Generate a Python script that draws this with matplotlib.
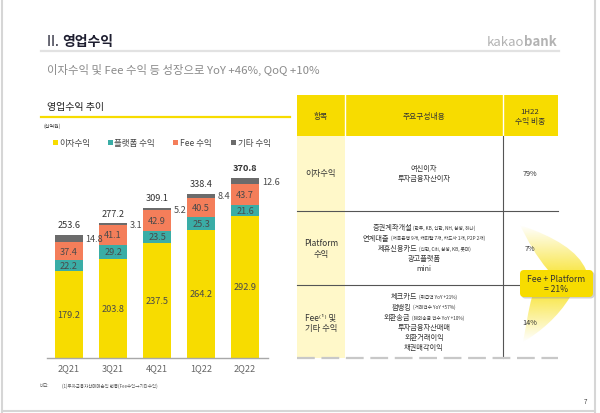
import matplotlib
matplotlib.use('Agg')
import matplotlib.pyplot as plt
from matplotlib.patches import Rectangle, FancyBboxPatch, PathPatch
from matplotlib.path import Path
import numpy as np

plt.rcParams['font.family'] = ['Noto Sans CJK KR', 'DejaVu Sans']

# ---------------- data ----------------
quarters = ['2Q21', '3Q21', '4Q21', '1Q22', '2Q22']
interest = [179.2, 203.8, 237.5, 264.2, 292.9]
platform = [22.2, 29.2, 23.5, 25.3, 21.6]
fee = [37.4, 41.1, 42.9, 40.5, 43.7]
other = [14.8, 3.1, 5.2, 8.4, 12.6]
totals = [253.6, 277.2, 309.1, 338.4, 370.8]
series_names = ['이자수익', '플랫폼 수익', 'Fee 수익', '기타 수익']
colors = ['#F7DC00', '#3AADA6', '#F47E5A', '#6B6B6B']

table_header = ['항목', '주요구성내용', '1H22\n수익 비중']
row_labels = ['이자수익', 'Platform\n수익', 'Fee⁽¹⁾ 및\n기타 수익']
row_shares = ['79%', '7%', '14%']
row1_items = [('여신이자', ''), ('투자금융자산이자', '')]
row2_items = [('증권계좌개설', '(한투, KB, 신한, NH, 삼성, 하나)'),
              ('연계대출', '(저축은행 9개, 캐피탈 7개, 카드사 1개, P2P 2개)'),
              ('제휴신용카드', '(신한, Citi, 삼성, KB, 롯데)'),
              ('광고플랫폼', ''),
              ('mini', '')]
row3_items = [('체크카드', '(취급액 YoY +21%)'),
              ('펌뱅킹', '(거래건수 YoY +57%)'),
              ('외환송금', '(해외송금 건수 YoY +10%)'),
              ('투자금융자산매매', ''),
              ('외환거래이익', ''),
              ('채권매각이익', '')]

fig = plt.figure(figsize=(6, 4.14), dpi=100)
bg = fig.add_axes([0, 0, 1, 1])
bg.set_xlim(0, 600)
bg.set_ylim(414, 0)
bg.axis('off')
renderer = fig.canvas.get_renderer()

def width_px(t):
    return t.get_window_extent(renderer=renderer).width

# page border
for xs, ys in [([2, 2], [0, 413]), ([595, 595], [0, 413]), ([2, 595], [412.5, 412.5])]:
    bg.plot(xs, ys, color='#d6d6d6', lw=1.5)

# title
t_ii = bg.text(47, 42, 'II. ', fontsize=10, va='center', color='#1e1e30')
bg.text(47 + width_px(t_ii), 42, '영업수익', fontsize=10, va='center', color='#1e1e30', fontweight='bold')
bg.plot([41, 559], [52, 52], color='#e2e2e2', lw=1.6)
tb = bg.text(557, 42, 'bank', fontsize=9.5, va='center', ha='right', color='#b3b3b3', fontweight='bold')
bg.text(557 - width_px(tb), 42, 'kakao', fontsize=9.5, va='center', ha='right', color='#b3b3b3')

bg.text(47, 70, '이자수익 및 Fee 수익 등 성장으로 YoY +46%, QoQ +10%', fontsize=8.2,
        va='center', color='#8a8a8a')

bg.text(47, 107, '영업수익 추이', fontsize=7.2, va='center', color='#222222')
bg.plot([41, 290], [118, 118], color='#F7DC00', lw=1.6)
bg.text(43, 126, '(십억원)', fontsize=3.6, va='center', color='#444444')

# legend
leg_x = [53, 108, 173, 231]
for lx, name, c in zip(leg_x, series_names, colors):
    bg.add_patch(Rectangle((lx, 141), 4.5, 4.5, color=c, lw=0))
    bg.text(lx + 6.5, 143.3, name, fontsize=6.1, va='center', color='#444444')

# footnote
bg.text(40, 386, '비고:', fontsize=3.2, va='center', color='#555555')
bg.text(62, 386, '(1)투자금융자산매매손익 변동(Fee수익→기타수익)', fontsize=3.2, va='center', color='#555555')
bg.text(584, 402, '7', fontsize=4.5, va='center', color='#444444')

# ---------------- chart ----------------
ax = fig.add_axes([47 / 600, 55 / 414, 221 / 600, 209 / 414])
ax.patch.set_alpha(0)
x = np.arange(len(quarters))
bw = 0.64
stack = [interest, platform, fee, other]
bottom = np.zeros(len(quarters))
for k, (vals, c) in enumerate(zip(stack, colors)):
    vals = np.array(vals)
    ax.bar(x, vals, bw, bottom=bottom, color=c, lw=0)
    for i in range(len(quarters)):
        mid = bottom[i] + vals[i] / 2
        if k < 3:
            ax.text(x[i], mid, f'{vals[i]:.1f}', ha='center', va='center', fontsize=6.6, color='#4a4a4a')
        else:
            ax.text(x[i] + bw / 2 + 0.06, mid, f'{vals[i]:.1f}', ha='left', va='center', fontsize=6.6,
                    color='#4a4a4a')
    bottom = bottom + vals
for i, t in enumerate(totals):
    ax.annotate(f'{t:.1f}', (x[i], t), xytext=(0, 7.5), textcoords='offset points', ha='center',
                va='center', fontsize=6.6, color='#333333',
                fontweight='bold' if i == len(totals) - 1 else 'normal')
ax.set_xlim(-0.5, 4.52)
ax.set_ylim(0, 209 / 0.4855)
for s in ['top', 'right', 'left']:
    ax.spines[s].set_visible(False)
ax.spines['bottom'].set_color('#a8a8a8')
ax.spines['bottom'].set_linewidth(1)
ax.set_yticks([])
ax.set_xticks(x)
ax.set_xticklabels(quarters)
ax.tick_params(axis='x', length=0, pad=4, labelsize=6.6, labelcolor='#666666')

# ---------------- table ----------------
yellow = '#F7DC00'
bg.add_patch(Rectangle((297, 96), 261, 41, color=yellow, lw=0))
for xv in [345, 503]:
    bg.plot([xv, xv], [96, 137], color='white', lw=1)
bg.add_patch(Rectangle((297, 137), 48, 222, color='#FFF8C9', lw=0))
for yv in [212, 286]:
    bg.plot([297, 558], [yv, yv], color='#555555', lw=0.8)
bg.plot([503, 503], [137, 359], color='#555555', lw=0.8)
bg.plot([297, 558], [359, 359], color='#c8c8c8', lw=1.6, ls=(0, (8, 3)))

hx = [321, 424, 530]
for hxx, h in zip(hx, table_header):
    bg.text(hxx, 117, h, ha='center', va='center', fontsize=5.6, color='#333333', linespacing=1.3)

row_y = [174, 249, 323]
for ry, lab, sh in zip(row_y, row_labels, row_shares):
    bg.text(321, ry, lab, ha='center', va='center', fontsize=6, color='#333333', linespacing=1.3)
    bg.text(530, ry, sh, ha='center', va='center', fontsize=5.2, color='#333333')

def mixed_line(xc, y, main, paren, s1=5.2, s2=3.4):
    t1 = bg.text(0, y, main, fontsize=s1, ha='left', va='center', color='#333333')
    w1 = width_px(t1)
    if paren:
        t2 = bg.text(0, y, paren, fontsize=s2, ha='left', va='center', color='#333333')
        w2 = width_px(t2)
        gap = 1.5
        x0 = xc - (w1 + gap + w2) / 2
        t1.set_x(x0)
        t2.set_x(x0 + w1 + gap)
    else:
        t1.set_x(xc - w1 / 2)

for (m, p), yy in zip(row1_items, [169, 179]):
    mixed_line(424, yy, m, p)
for (m, p), yy in zip(row2_items, [228.5, 238.7, 248.9, 259.1, 269.3]):
    mixed_line(424, yy, m, p)
for (m, p), yy in zip(row3_items, [297.5, 307.7, 317.9, 328.1, 338.3, 348.5]):
    mixed_line(424, yy, m, p)

# ---------------- callout ----------------
def gradient_shape(verts, codes, y0, y1, a0, a1):
    path = Path(verts, codes)
    patch = PathPatch(path, facecolor='none', edgecolor='none', transform=bg.transData)
    bg.add_patch(patch)
    xs = [v[0] for v in verts]
    n = 100
    alpha = np.linspace(a0, a1, n)[:, None]
    img = np.zeros((n, 2, 4))
    img[..., 0] = 248 / 255
    img[..., 1] = 226 / 255
    img[..., 2] = 40 / 255
    img[..., 3] = alpha
    im = bg.imshow(img, extent=[min(xs), max(xs), y1, y0], origin='upper', aspect='auto',
                   interpolation='bilinear', zorder=2)
    im.set_clip_path(patch)

C = Path.CURVE4
gradient_shape([(520, 226), (555, 238), (578, 252), (586, 271), (548, 271), (536, 257), (528, 242), (520, 226)],
               [Path.MOVETO, C, C, C, Path.LINETO, C, C, C], 226, 271, 0.0, 0.8)
gradient_shape([(532, 298), (570, 298), (558, 318), (540, 333), (523, 343), (526, 328), (528, 312), (532, 298)],
               [Path.MOVETO, Path.LINETO, C, C, C, C, C, C], 298, 343, 0.8, 0.0)
bg.set_xlim(0, 600)
bg.set_ylim(414, 0)

bg.add_patch(FancyBboxPatch((521.5, 272.5), 73, 27, boxstyle='round,pad=0,rounding_size=4',
                            fc='#9a9a9a', ec='none', alpha=0.45, zorder=3))
bg.add_patch(FancyBboxPatch((520, 271), 73, 27, boxstyle='round,pad=0,rounding_size=4',
                            fc=yellow, ec='none', zorder=4))
bg.text(556.5, 284.5, 'Fee + Platform\n= 21%', ha='center', va='center', fontsize=6.2,
        color='#333333', linespacing=1.15, zorder=5)

fig.savefig('out.png', dpi=100)
